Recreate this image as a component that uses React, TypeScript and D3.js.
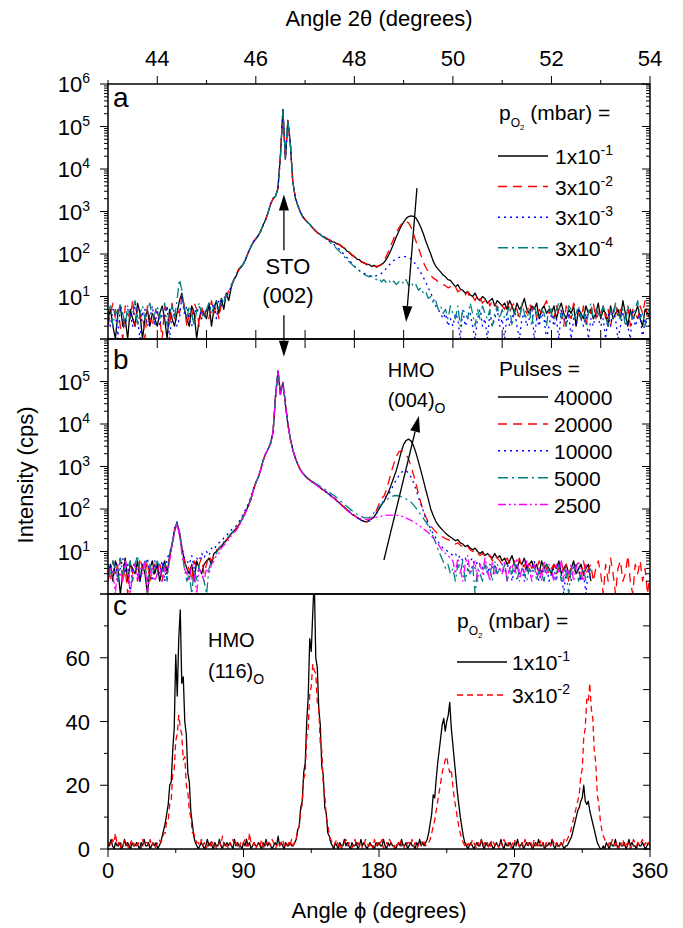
import * as d3 from 'd3'

// ---------- data ----------
// 2theta sampled every 0.05 deg from 43 to 54, phi every 1 deg from 0 to 360
const twoTheta = d3.range(221).map((i) => 43 + i * 0.05)
const phi = d3.range(361)

// panel a: films grown at different oxygen pressures (cps)
const aP1e1 = [
  3, 5, 2, 1, 4, 6, 2, 3, 1, 5, 3, 2, 7, 4, 1, 3, 5, 2, 4, 3,
  2, 4, 6, 3, 1, 5, 3, 2, 4, 8, 12, 5, 3, 2, 6, 4, 1, 3, 5, 4,
  3, 7, 2, 5, 8, 4, 9, 5, 12, 8, 16, 25, 30, 44, 48, 60, 78, 112, 146, 195,
  225, 275, 345, 490, 640, 960, 1480, 2020, 2280, 3600, 21000, 245000, 17500, 138000, 41000, 5100, 2150, 1420, 990, 770,
  650, 555, 495, 415, 365, 315, 295, 260, 248, 224, 215, 194, 190, 171, 168, 146, 138, 117, 110, 93,
  88, 76, 74, 64, 63, 56, 57, 51, 54, 49, 53, 56, 63, 76, 96, 130, 180, 250, 340, 450,
  560, 680, 760, 790, 770, 700, 560, 420, 300, 200, 140, 100, 68, 52, 44, 38, 32, 29, 25, 24,
  20, 17, 19, 15, 14, 12, 13, 11, 10, 12, 9, 8, 10, 9, 7, 8, 9, 6, 8, 7,
  6, 7, 5, 8, 6, 4, 7, 5, 6, 9, 5, 4, 6, 5, 7, 3, 5, 6, 4, 5,
  4, 6, 3, 5, 7, 4, 3, 5, 4, 6, 2, 5, 4, 3, 6, 4, 5, 3, 4, 7,
  3, 5, 4, 2, 6, 3, 4, 5, 3, 8, 4, 2, 5, 3, 4, 6, 3, 2, 5, 4,
  3,
]
const aP3e2 = [
  2, 4, 7, 3, 5, 2, 1, 6, 4, 3, 8, 2, 5, 3, 4, 1, 6, 3, 2, 5,
  4, 3, 1, 6, 5, 2, 7, 3, 5, 4, 11, 6, 2, 4, 3, 7, 5, 2, 6, 3,
  5, 3, 8, 4, 6, 3, 7, 9, 10, 14, 19, 23, 33, 40, 52, 56, 82, 108, 154, 186,
  234, 265, 355, 470, 660, 940, 1520, 1980, 2320, 3400, 19500, 252000, 16800, 141000, 39000, 4900, 2250, 1380, 1010, 750,
  630, 565, 485, 425, 355, 325, 285, 270, 242, 232, 209, 201, 182, 178, 162, 153, 132, 123, 105, 98,
  84, 80, 70, 67, 60, 59, 54, 54, 51, 52, 52, 58, 68, 90, 120, 170, 230, 310, 400, 500,
  570, 590, 540, 430, 300, 200, 140, 95, 65, 48, 38, 32, 27, 25, 22, 21, 19, 18, 16, 17,
  15, 17, 13, 14, 12, 11, 13, 9, 10, 8, 11, 9, 7, 8, 9, 6, 8, 7, 5, 7,
  6, 5, 8, 4, 6, 7, 5, 3, 6, 5, 4, 7, 5, 6, 3, 5, 4, 6, 8, 4,
  5, 3, 6, 4, 5, 2, 6, 4, 3, 7, 5, 4, 3, 6, 2, 5, 4, 7, 3, 5,
  4, 6, 3, 5, 2, 4, 7, 3, 5, 4, 3, 6, 2, 5, 4, 3, 6, 4, 8, 3,
  4,
]
const aP3e3 = [
  3, 2, 5, 4, 1, 6, 3, 2, 5, 4, 2, 7, 3, 1, 4, 5, 2, 3, 6, 2,
  5, 2, 4, 3, 6, 1, 4, 5, 2, 3, 10, 4, 6, 3, 2, 5, 4, 6, 3, 5,
  4, 6, 5, 7, 3, 8, 6, 10, 9, 13, 17, 24, 31, 43, 49, 59, 79, 109, 152, 192,
  228, 272, 348, 485, 645, 955, 1510, 2010, 2290, 3550, 20500, 248000, 17200, 139000, 40500, 5050, 2180, 1410, 1000, 765,
  640, 560, 490, 420, 360, 318, 288, 262, 240, 222, 195, 180, 162, 145, 128, 110, 95, 82, 70, 60,
  52, 46, 41, 38, 35, 33, 31, 30, 30, 31, 32, 35, 40, 46, 54, 62, 70, 77, 82, 86,
  88, 86, 82, 76, 66, 56, 45, 36, 28, 22, 16, 12, 9, 6, 5, 4, 3, 4, 2, 3,
  2, 4, 3, 1, 5, 2, 3, 4, 2, 1, 3, 5, 2, 3, 1, 4, 2, 3, 5, 2,
  3, 1, 4, 2, 3, 5, 2, 1, 3, 4, 2, 3, 6, 1, 3, 2, 4, 3, 1, 2,
  4, 2, 3, 1, 5, 3, 2, 4, 1, 3, 2, 5, 3, 2, 4, 1, 3, 2, 4, 3,
  2, 3, 1, 4, 2, 5, 3, 1, 2, 4, 3, 2, 1, 5, 2, 3, 4, 1, 3, 2,
  2,
]
const aP3e4 = [
  4, 6, 2, 5, 3, 7, 4, 2, 6, 3, 5, 8, 2, 4, 6, 3, 5, 7, 3, 4,
  6, 3, 5, 7, 2, 4, 6, 3, 8, 25, 14, 5, 3, 6, 4, 2, 5, 7, 4, 3,
  5, 7, 4, 6, 8, 5, 9, 7, 11, 10, 18, 24, 32, 42, 50, 58, 80, 110, 150, 190,
  230, 270, 350, 480, 650, 950, 1500, 2000, 2300, 3500, 20000, 250000, 17000, 140000, 40000, 5000, 2200, 1400, 1000, 760,
  645, 555, 488, 418, 362, 322, 292, 258, 238, 212, 190, 168, 150, 130, 115, 98, 85, 74, 65, 57,
  50, 46, 40, 36, 33, 31, 29, 30, 26, 25, 27, 22, 25, 21, 24, 20, 23, 19, 22, 24,
  20, 25, 18, 22, 17, 19, 14, 16, 12, 13, 9, 10, 7, 8, 5, 6, 4, 5, 3, 6,
  4, 3, 6, 2, 5, 4, 3, 7, 4, 2, 5, 3, 6, 4, 3, 5, 2, 4, 6, 3,
  5, 3, 4, 6, 2, 5, 4, 3, 7, 4, 3, 5, 2, 6, 4, 3, 5, 4, 2, 6,
  4, 3, 5, 7, 3, 4, 2, 6, 5, 3, 4, 6, 3, 5, 2, 4, 7, 3, 5, 4,
  3, 6, 4, 2, 5, 3, 7, 4, 3, 5, 2, 6, 4, 3, 5, 8, 3, 4, 2, 5,
  4,
]

// panel b: films grown with different numbers of laser pulses (cps)
const bPulses40000 = [
  3, 5, 2, 6, 4, 1, 3, 7, 2, 5, 4, 3, 6, 2, 5, 3, 1, 4, 6, 3,
  5, 2, 4, 6, 3, 8, 15, 32, 48, 28, 12, 6, 4, 3, 5, 2, 6, 4, 3, 5,
  6, 7, 5, 9, 10, 12, 13, 16, 18, 22, 26, 30, 34, 42, 52, 68, 90, 120, 170, 280,
  420, 560, 850, 1400, 2000, 2600, 3500, 6500, 45000, 175000, 50000, 95000, 30000, 10000, 4500, 2500, 1600, 1150, 850, 700,
  600, 528, 474, 426, 393, 351, 324, 287, 268, 236, 218, 192, 178, 152, 140, 120, 110, 94, 88, 75,
  70, 64, 58, 54, 51, 50, 55, 58, 65, 80, 100, 125, 150, 200, 260, 380, 550, 800, 1300, 2200,
  3300, 4100, 4400, 4000, 3100, 2100, 1300, 800, 480, 280, 170, 100, 70, 52, 42, 36, 31, 27, 24, 22,
  20, 18, 19, 16, 15, 13, 14, 12, 11, 12, 10, 9, 10, 8, 9, 8, 7, 9, 7, 8,
  6, 7, 5, 6, 8, 5, 4, 6, 5, 7, 4, 5, 6, 4, 5, 3, 6, 4, 5, 4,
  3, 5, 4, 6, 3, 4, 5, 3, 4, 6, 3, 4, 5, 3, 4, 5, 2,
]
const bPulses20000 = [
  4, 2, 6, 3, 5, 7, 2, 4, 1, 6, 3, 5, 2, 7, 4, 3, 6, 2, 4, 5,
  3, 6, 2, 5, 4, 7, 14, 30, 46, 26, 11, 7, 3, 5, 2, 6, 4, 5, 7, 3,
  5, 8, 6, 8, 11, 11, 14, 15, 19, 21, 27, 29, 36, 40, 54, 66, 92, 118, 175, 270,
  410, 570, 840, 1420, 1980, 2620, 3450, 6600, 44000, 172000, 51000, 94000, 31000, 9800, 4600, 2480, 1620, 1140, 860, 690,
  610, 520, 480, 425, 395, 350, 325, 285, 268, 236, 218, 192, 178, 152, 140, 120, 110, 94, 88, 76,
  71, 63, 59, 53, 52, 49, 55, 62, 75, 95, 130, 180, 200, 280, 450, 750, 1150, 1700, 2200, 2350,
  2200, 1900, 1500, 1000, 650, 400, 230, 140, 90, 65, 50, 40, 34, 29, 26, 23, 22, 20, 19, 18,
  17, 15, 16, 14, 13, 12, 13, 11, 10, 11, 9, 8, 9, 8, 7, 8, 6, 8, 7, 6,
  5, 6, 7, 5, 4, 6, 5, 7, 4, 5, 3, 6, 4, 5, 4, 6, 3, 5, 4, 3,
  4, 5, 3, 4, 6, 3, 5, 2, 4, 3, 5, 4, 2, 6, 3, 4, 5, 2, 4, 6,
  3, 1, 5, 2, 7, 3, 1, 4, 6, 2, 3, 8, 2, 1, 5, 3, 6, 2, 4, 1,
  3,
]
const bPulses10000 = [
  2, 5, 3, 6, 2, 4, 7, 3, 5, 1, 4, 6, 3, 2, 5, 4, 7, 3, 2, 6,
  4, 3, 6, 2, 7, 9, 16, 34, 50, 30, 13, 7, 6, 5, 8, 4, 7, 6, 9, 7,
  10, 8, 12, 11, 14, 16, 17, 21, 23, 28, 32, 36, 40, 48, 60, 78, 100, 135, 190, 300,
  430, 550, 870, 1380, 2050, 2580, 3550, 6400, 46000, 178000, 49000, 96000, 29000, 10200, 4400, 2520, 1580, 1160, 840, 710,
  590, 535, 465, 435, 385, 360, 315, 295, 260, 245, 210, 198, 172, 158, 135, 124, 106, 98, 84, 78,
  69, 65, 57, 55, 50, 51, 52, 56, 65, 80, 100, 130, 160, 200, 220, 290, 380, 480, 600, 720,
  790, 800, 700, 560, 420, 290, 190, 130, 90, 60, 45, 34, 26, 21, 17, 14, 12, 11, 10, 9,
  8, 9, 7, 8, 6, 7, 5, 6, 7, 4, 6, 5, 4, 6, 3, 5, 4, 5, 3, 4,
  5, 3, 4, 6, 2, 4, 5, 3, 4, 2, 5, 3, 4, 6, 3, 2, 4, 3, 5, 2,
  3, 4, 2, 5, 3, 1, 4, 3, 2, 5, 3, 4, 2, 3, 1, 4, 2,
]
const bPulses5000 = [
  5, 3, 6, 4, 2, 7, 3, 5, 4, 6, 2, 5, 8, 3, 4, 6, 2, 5, 3, 4,
  6, 4, 3, 5, 2, 7, 15, 31, 47, 27, 10, 4, 2, 3, 1, 4, 2, 5, 3, 2,
  1, 4, 6, 7, 9, 12, 14, 17, 19, 23, 27, 31, 35, 43, 53, 70, 92, 122, 172, 285,
  415, 565, 845, 1410, 2010, 2590, 3480, 6550, 45500, 176000, 50500, 95500, 30500, 9900, 4550, 2510, 1610, 1160, 870, 720,
  620, 545, 485, 445, 410, 375, 345, 315, 290, 268, 245, 222, 202, 182, 162, 145, 128, 114, 102, 92,
  84, 76, 70, 66, 62, 62, 62, 70, 82, 95, 110, 130, 148, 165, 180, 195, 205, 208, 205, 195,
  185, 172, 160, 145, 125, 105, 88, 72, 60, 50, 40, 30, 22, 16, 11, 8, 6, 4, 5, 3,
  4, 2, 5, 3, 6, 2, 4, 3, 5, 1, 4, 3, 2, 5, 3, 4, 2, 6, 3, 4,
  3, 5, 2, 4, 3, 6, 2, 4, 5, 3, 2, 4, 3, 5, 2, 4, 3, 2, 5, 3,
  4, 2, 3, 5, 2, 4, 3, 1, 4, 3, 5, 2, 3, 4, 2, 3, 4,
]
const bPulses2500 = [
  2, 4, 3, 1, 5, 3, 2, 6, 4, 1, 3, 5, 2, 4, 3, 6, 1, 3, 4, 2,
  3, 5, 2, 4, 3, 6, 12, 28, 44, 25, 9, 4, 3, 2, 5, 3, 1, 4, 3, 2,
  4, 3, 5, 6, 8, 9, 12, 14, 16, 19, 23, 27, 31, 38, 48, 62, 85, 115, 165, 270,
  405, 555, 835, 1390, 1990, 2610, 3420, 6450, 44500, 174000, 49500, 94500, 29500, 9700, 4450, 2490, 1590, 1140, 845, 695,
  595, 525, 468, 428, 388, 352, 318, 288, 262, 238, 212, 192, 172, 153, 136, 120, 106, 94, 84, 75,
  68, 64, 60, 58, 56, 57, 58, 60, 62, 64, 66, 68, 70, 71, 72, 72, 72, 71, 70, 68,
  66, 62, 58, 54, 50, 46, 42, 38, 34, 31, 28, 24, 20, 17, 15, 12, 10, 9, 8, 7,
  6, 3, 7, 4, 2, 5, 8, 3, 4, 6, 2, 5, 3, 7, 4, 2, 6, 3, 5, 4,
  3, 6, 2, 4, 5, 3, 7, 2, 4, 3, 6, 4, 2, 5, 3, 4, 2, 6, 3, 5,
  4, 2, 5, 3, 6, 2, 4, 3, 5, 2, 4, 6, 3, 2, 5, 3, 4,
]

// panel c: phi scans (cps)
const cP1e1 = [
  2, 1, 3, 1, 0, 2, 1, 1, 2, 0, 1, 3, 1, 2, 1, 0, 2, 1, 1, 2,
  1, 0, 2, 1, 3, 1, 1, 2, 0, 1, 2, 1, 2, 0, 1, 2, 4, 6, 8, 11,
  14, 20, 21, 31, 38, 61, 48, 66, 75, 52, 54, 40, 36, 24, 21, 12, 8, 4, 2, 1,
  0, 1, 2, 1, 0, 1, 3, 1, 2, 1, 0, 2, 1, 1, 3, 1, 0, 2, 1, 2,
  1, 2, 1, 0, 3, 1, 2, 1, 1, 0, 2, 1, 3, 1, 2, 0, 1, 2, 1, 1,
  2, 1, 0, 2, 1, 3, 1, 2, 1, 0, 1, 2, 1, 4, 1, 2, 1, 0, 2, 1,
  1, 2, 1, 1, 2, 3, 6, 7, 13, 15, 24, 27, 40, 48, 66, 62, 74, 85, 60, 57,
  44, 39, 26, 23, 13, 11, 5, 4, 2, 1, 0, 2, 1, 0, 2, 1, 1, 3, 1, 2,
  1, 0, 2, 1, 1, 2, 0, 1, 3, 1, 2, 1, 0, 1, 2, 1, 1, 0, 2, 1,
  2, 1, 1, 3, 1, 0, 2, 1, 2, 1, 1, 0, 1, 2, 1, 3, 1, 1, 2, 0,
  1, 2, 1, 1, 0, 2, 1, 3, 1, 2, 1, 2, 3, 5, 8, 11, 17, 16, 22, 27,
  31, 35, 39, 41, 37, 40, 42, 46, 38, 33, 28, 23, 18, 14, 10, 7, 4, 2, 1, 0,
  1, 2, 1, 0, 1, 2, 1, 1, 3, 1, 0, 2, 1, 1, 2, 1, 0, 1, 2, 1,
  1, 3, 1, 0, 2, 1, 1, 2, 1, 0, 2, 1, 3, 1, 1, 2, 0, 1, 2, 1,
  2, 1, 0, 1, 2, 1, 3, 1, 1, 2, 0, 1, 1, 2, 1, 3, 1, 0, 2, 1,
  1, 2, 1, 0, 1, 1, 2, 3, 4, 6, 8, 10, 12, 13, 15, 16, 20, 15, 14, 15,
  12, 10, 8, 6, 4, 2, 1, 0, 0, 1, 0, 2, 1, 0, 2, 1, 1, 3, 1, 0,
  2, 1, 1, 2, 0, 1, 3, 1, 2, 1, 1, 0, 2, 1, 1, 2, 1, 0, 1, 2,
  1,
]
const cP3e2 = [
  1, 2, 1, 3, 2, 5, 1, 2, 0, 2, 1, 3, 2, 1, 0, 2, 3, 1, 2, 1,
  2, 1, 0, 3, 1, 2, 2, 1, 3, 1, 2, 0, 1, 2, 3, 2, 3, 5, 5, 9,
  9, 14, 15, 24, 25, 34, 36, 42, 38, 36, 28, 29, 20, 18, 12, 10, 5, 5, 3, 2,
  2, 1, 3, 1, 2, 0, 1, 2, 1, 3, 1, 2, 0, 1, 2, 1, 4, 1, 2, 1,
  0, 2, 1, 3, 1, 2, 1, 0, 2, 1, 2, 3, 1, 1, 5, 2, 1, 2, 0, 1,
  2, 1, 3, 1, 0, 2, 1, 2, 1, 3, 2, 0, 1, 2, 1, 2, 3, 1, 2, 1,
  2, 1, 3, 1, 2, 3, 6, 7, 12, 14, 22, 24, 35, 38, 49, 51, 58, 56, 55, 46,
  44, 33, 31, 20, 17, 10, 8, 4, 3, 2, 1, 2, 3, 1, 2, 0, 1, 2, 3, 1,
  2, 1, 0, 2, 3, 1, 2, 1, 2, 0, 1, 3, 2, 1, 1, 2, 0, 3, 1, 2,
  1, 2, 3, 0, 1, 2, 1, 3, 2, 1, 0, 2, 1, 2, 3, 1, 2, 0, 1, 2,
  2, 1, 3, 1, 2, 0, 1, 2, 1, 3, 2, 1, 2, 2, 3, 5, 7, 9, 12, 15,
  18, 21, 24, 26, 28, 29, 26, 24, 25, 20, 16, 13, 10, 7, 5, 3, 2, 1, 2, 1,
  2, 1, 3, 2, 1, 0, 2, 1, 3, 1, 2, 1, 2, 0, 1, 3, 2, 1, 2, 1,
  0, 2, 1, 3, 2, 1, 2, 0, 1, 2, 3, 1, 2, 1, 0, 2, 1, 3, 1, 2,
  1, 2, 0, 3, 1, 2, 1, 2, 3, 1, 0, 2, 1, 2, 1, 3, 2, 1, 2, 0,
  1, 2, 1, 3, 2, 3, 4, 5, 7, 9, 11, 13, 15, 17, 23, 25, 35, 38, 47, 46,
  52, 44, 41, 31, 27, 17, 14, 9, 6, 4, 3, 2, 1, 2, 1, 3, 2, 1, 2, 0,
  2, 1, 3, 1, 2, 1, 2, 0, 1, 3, 2, 1, 2, 1, 2, 3, 1, 2, 1, 2,
  2,
]

const twoThetaTicks = [44, 46, 48, 50, 52, 54]
const phiTicks = [0, 90, 180, 270, 360]
const phiMinor = [45, 135, 225, 315]
const countTicks = [0, 20, 40, 60]
const pO2Legend = [['1x10', '-1'], ['3x10', '-2'], ['3x10', '-3'], ['3x10', '-4']]
const pulseLegend = ['40000', '20000', '10000', '5000', '2500']
const phiLegend = [['1x10', '-1'], ['3x10', '-2']]

// line styles (kept apart from the data)
const STYLES = [
  { color: '#000000', dash: undefined },
  { color: '#ff0000', dash: '9,6' },
  { color: '#0000ff', dash: '2,4' },
  { color: '#008080', dash: '10,4,2,4' },
  { color: '#ff00ff', dash: '8,3,2,3,2,3' },
]
const FONT = 'Liberation Sans, Arial, Helvetica, sans-serif'

const L = 108
const R = 650

function Arrow({ x1, y1, x2, y2 }: any) {
  const a = Math.atan2(y2 - y1, x2 - x1)
  const len = 16, half = 5
  const bx = x2 - len * Math.cos(a)
  const by = y2 - len * Math.sin(a)
  const px = -Math.sin(a) * half
  const py = Math.cos(a) * half
  return (
    <g>
      <line x1={x1} y1={y1} x2={bx} y2={by} stroke="#000" strokeWidth={1.3} />
      <polygon points={`${x2},${y2} ${bx + px},${by + py} ${bx - px},${by - py}`} fill="#000" />
    </g>
  )
}

function PO2({ x, y }: any) {
  return (
    <text x={x} y={y} fontSize={21}>
      p<tspan fontSize={12} dy={7}>O</tspan>
      <tspan fontSize={8} dy={3}>2</tspan>
      <tspan fontSize={21} dy={-10}>{' (mbar) ='}</tspan>
    </text>
  )
}

const isDecade = (v: number) => Math.abs(Math.log10(v) - Math.round(Math.log10(v))) < 1e-9

function LogAxis({ y, exps }: any) {
  return (
    <g>
      {y.ticks().map((v: number, i: number) => {
        const t = isDecade(v) ? 8 : 4
        const yy = y(v)
        return (
          <g key={i} stroke="#000" strokeWidth={1}>
            <line x1={L} x2={L - t} y1={yy} y2={yy} />
            <line x1={R} x2={R - t} y1={yy} y2={yy} />
          </g>
        )
      })}
      {exps.map((e: number) => (
        <text key={e} x={90} y={y(Math.pow(10, e)) + 8} textAnchor="end" fontSize={22}>
          10<tspan dy={-9} fontSize={14}>{e}</tspan>
        </text>
      ))}
    </g>
  )
}

export default function App() {
  const x2t = d3.scaleLinear().domain([43, 54]).range([L, R])
  const xPhi = d3.scaleLinear().domain([0, 360]).range([L, R])
  const yA = d3.scaleLog().domain([1, 1e6]).range([339, 84])
  const yB = d3.scaleLog().domain([1, 1e6]).range([594, 339])
  const yC = d3.scaleLinear().domain([0, 80]).range([849, 594])

  const logLine = (y: any) =>
    d3.line<number>().x((_, i) => x2t(twoTheta[i])).y((d) => y(Math.max(d, 1)))
  const lineA = logLine(yA)
  const lineB = logLine(yB)
  const lineC = d3.line<number>().x((_, i) => xPhi(phi[i])).y((d) => yC(d))

  const seriesA = [aP1e1, aP3e2, aP3e3, aP3e4]
  const seriesB = [bPulses40000, bPulses20000, bPulses10000, bPulses5000, bPulses2500]
  const seriesC = [cP1e1, cP3e2]

  const degTicks = d3.range(44, 54)

  return (
    <svg width={683} height={928} style={{ position: 'absolute', left: 0, top: 0, background: '#fff' }}
      fontFamily={FONT}>
      <defs>
        <clipPath id="clipA"><rect x={L} y={84} width={R - L} height={255} /></clipPath>
        <clipPath id="clipB"><rect x={L} y={339} width={R - L} height={255} /></clipPath>
        <clipPath id="clipC"><rect x={L} y={594} width={R - L} height={255} /></clipPath>
      </defs>

      {/* data */}
      <g clipPath="url(#clipA)" fill="none" strokeLinejoin="round">
        {seriesA.map((s, i) => (
          <path key={i} d={lineA(s) as string} stroke={STYLES[i].color}
            strokeDasharray={STYLES[i].dash} strokeWidth={1.3} />
        ))}
      </g>
      <g clipPath="url(#clipB)" fill="none" strokeLinejoin="round">
        {seriesB.map((s, i) => (
          <path key={i} d={lineB(s) as string} stroke={STYLES[i].color}
            strokeDasharray={STYLES[i].dash} strokeWidth={1.3} />
        ))}
      </g>
      <g clipPath="url(#clipC)" fill="none" strokeLinejoin="round">
        {seriesC.map((s, i) => (
          <path key={i} d={lineC(s) as string} stroke={STYLES[i].color}
            strokeDasharray={i === 1 ? '6,4' : undefined} strokeWidth={1.3} />
        ))}
      </g>

      {/* frames */}
      <g fill="none" stroke="#000" strokeWidth={1.5}>
        <rect x={L} y={84} width={R - L} height={255} />
        <rect x={L} y={339} width={R - L} height={255} />
        <rect x={L} y={594} width={R - L} height={255} />
      </g>

      {/* top 2theta axis */}
      <g stroke="#000" strokeWidth={1}>
        {d3.range(43, 55).map((v) => (
          <line key={v} x1={x2t(v)} x2={x2t(v)} y1={84} y2={v % 2 === 0 ? 76 : 80} />
        ))}
        {degTicks.map((v) => (
          <line key={'m' + v} x1={x2t(v)} x2={x2t(v)} y1={330} y2={348} />
        ))}
      </g>
      {twoThetaTicks.map((v) => (
        <text key={v} x={x2t(v)} y={66} textAnchor="middle" fontSize={22}>{v}</text>
      ))}
      <text x={(L + R) / 2} y={26} textAnchor="middle" fontSize={22}>Angle 2θ (degrees)</text>

      <LogAxis y={yA} exps={[1, 2, 3, 4, 5, 6]} />
      <LogAxis y={yB} exps={[1, 2, 3, 4, 5]} />

      {/* panel c axes */}
      <g stroke="#000" strokeWidth={1}>
        {d3.range(0, 81, 10).map((v) => (
          <g key={v}>
            <line x1={L} x2={L - (v % 20 === 0 ? 8 : 4)} y1={yC(v)} y2={yC(v)} />
            <line x1={R} x2={R - 7} y1={yC(v)} y2={yC(v)} />
          </g>
        ))}
        {phiTicks.map((v) => (
          <line key={v} x1={xPhi(v)} x2={xPhi(v)} y1={849} y2={857} />
        ))}
        {phiMinor.map((v) => (
          <line key={v} x1={xPhi(v)} x2={xPhi(v)} y1={849} y2={853} />
        ))}
      </g>
      {countTicks.map((v) => (
        <text key={v} x={90} y={yC(v) + 8} textAnchor="end" fontSize={22}>{v}</text>
      ))}
      {phiTicks.map((v) => (
        <text key={v} x={xPhi(v)} y={878} textAnchor="middle" fontSize={22}>{v}</text>
      ))}
      <text x={(L + R) / 2} y={918} textAnchor="middle" fontSize={22}>Angle ϕ (degrees)</text>
      <text transform="translate(33,475) rotate(-90)" textAnchor="middle" fontSize={22}>Intensity (cps)</text>

      {/* panel letters */}
      <text x={113} y={107} fontSize={28}>a</text>
      <text x={113} y={369} fontSize={28}>b</text>
      <text x={113} y={615} fontSize={28}>c</text>

      {/* annotations */}
      <text x={x2t(46.65)} y={yA(Math.pow(10, 1.53))} textAnchor="middle" fontSize={22}>STO</text>
      <text x={x2t(46.65)} y={yA(Math.pow(10, 0.85))} textAnchor="middle" fontSize={22}>(002)</text>
      <Arrow x1={x2t(46.57)} y1={yA(Math.pow(10, 2.09))} x2={x2t(46.57)} y2={yA(Math.pow(10, 3.4))} />
      <Arrow x1={x2t(46.57)} y1={yA(Math.pow(10, 0.56))} x2={x2t(46.57)} y2={yB(Math.pow(10, 5.58))} />
      <Arrow x1={x2t(49.27)} y1={yA(Math.pow(10, 3.55))} x2={x2t(49.05)} y2={yA(Math.pow(10, 0.4))} />
      <Arrow x1={x2t(48.6)} y1={yB(Math.pow(10, 0.8))} x2={x2t(49.31)} y2={yB(Math.pow(10, 4.19))} />
      <text x={x2t(48.68)} y={yB(Math.pow(10, 5.1))} fontSize={20}>HMO</text>
      <text x={x2t(48.68)} y={yB(Math.pow(10, 4.4))} fontSize={20}>
        (004)<tspan fontSize={14} dy={6}>O</tspan>
      </text>
      <text x={xPhi(66.4)} y={yC(63.5)} fontSize={20}>HMO</text>
      <text x={xPhi(66.4)} y={yC(53.5)} fontSize={20}>
        (116)<tspan fontSize={14} dy={6}>O</tspan>
      </text>

      {/* legend a */}
      <PO2 x={499} y={120} />
      {pO2Legend.map(([b, e], i) => {
        const yy = 156 + i * 30.6
        return (
          <g key={i}>
            <line x1={498} x2={548} y1={yy} y2={yy} stroke={STYLES[i].color}
              strokeDasharray={STYLES[i].dash} strokeWidth={1.5} />
            <text x={555} y={yy + 8} fontSize={21}>{b}<tspan dy={-9} fontSize={14}>{e}</tspan></text>
          </g>
        )
      })}

      {/* legend b */}
      <text x={499} y={376} fontSize={21}>Pulses =</text>
      {pulseLegend.map((t, i) => {
        const yy = 397 + i * 26.9
        return (
          <g key={i}>
            <line x1={498} x2={548} y1={yy} y2={yy} stroke={STYLES[i].color}
              strokeDasharray={STYLES[i].dash} strokeWidth={1.5} />
            <text x={554} y={yy + 8} fontSize={21}>{t}</text>
          </g>
        )
      })}

      {/* legend c */}
      <PO2 x={457} y={628} />
      {phiLegend.map(([b, e], i) => {
        const yy = 662 + i * 33
        return (
          <g key={i}>
            <line x1={457} x2={507} y1={yy} y2={yy} stroke={STYLES[i].color}
              strokeDasharray={i === 1 ? '6,4' : undefined} strokeWidth={1.5} />
            <text x={512} y={yy + 8} fontSize={21}>{b}<tspan dy={-9} fontSize={14}>{e}</tspan></text>
          </g>
        )
      })}
    </svg>
  )
}
